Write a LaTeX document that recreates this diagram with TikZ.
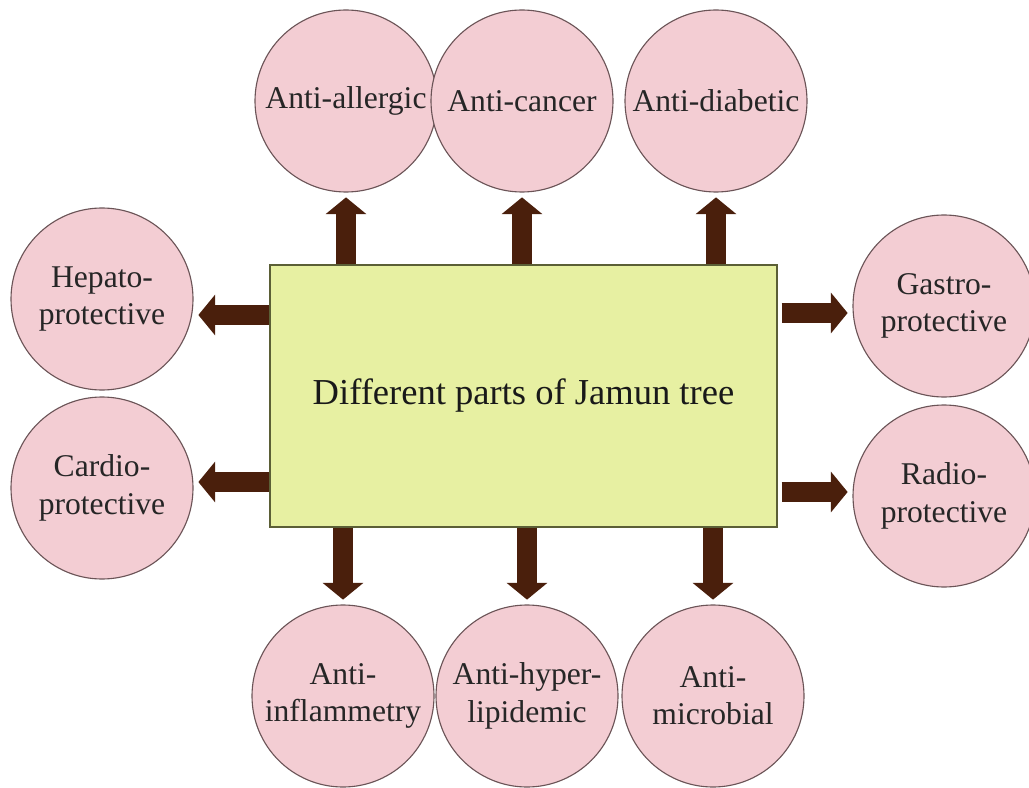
\documentclass[tikz,border=0pt]{standalone}
\usepackage{fontspec}
\setmainfont{Liberation Serif}
\usepackage{xcolor}
\usepackage{tikz}
\usetikzlibrary{arrows.meta,positioning,shapes,calc}

\definecolor{petal}{HTML}{F3CDD3}
\definecolor{petalline}{HTML}{6B5457}
\definecolor{leaf}{HTML}{E7F0A2}
\definecolor{leafline}{HTML}{5B5F36}
\definecolor{bark}{HTML}{4A1F0C}

\begin{document}
\begin{tikzpicture}[
  effect/.style={circle, draw=petalline, line width=0.8pt, fill=petal, minimum size=4.55cm, inner sep=0pt, align=center, text=black!85, font=\fontsize{22.5}{26.5}\selectfont},
  source/.style={draw=leafline, line width=1pt, fill=leaf, minimum width=12.675cm, minimum height=6.55cm, inner sep=0pt, text=black!90, font=\fontsize{26}{30}\selectfont},
  arrow/.style={-{Triangle[width=1cm, length=0.42cm]}, line width=0.5cm, draw=bark, shorten >=0.12cm}
]
\useasboundingbox (0,0) rectangle (25.725,19.675);

% Centre: plant source
\node[source] (body) at (13.0875, 9.775) {Different parts of Jamun tree};

% Top row
\node[effect] (allergic) at (8.65, 17.15) {Anti-allergic};
\node[effect] (cancer) at (13.05, 17.15) {Anti-cancer};
\node[effect] (diabetic) at (17.9, 17.15) {Anti-diabetic};

% Left column
\node[effect] (hepato) at (2.55, 12.2) {Hepato-\\protective};
\node[effect] (cardio) at (2.55, 7.475) {Cardio-\\protective};

% Right column
\node[effect] (gastro) at (23.6, 12.025) {Gastro-\\protective};
\node[effect] (radio) at (23.6, 7.275) {Radio-\\protective};

% Bottom row
\node[effect] (inflam) at (8.575, 2.275) {Anti-\\inflammetry};
\node[effect] (lipid) at (13.175, 2.275) {Anti-hyper-\\lipidemic};
\node[effect] (microbial) at (17.825, 2.275) {Anti-\\microbial};

% Connections
\draw[arrow] (allergic |- body.north) -- (allergic);
\draw[arrow] (cancer |- body.north) -- (cancer);
\draw[arrow] (diabetic |- body.north) -- (diabetic);

\draw[arrow] (inflam |- body.south) -- (inflam);
\draw[arrow] (lipid |- body.south) -- (lipid);
\draw[arrow] (microbial |- body.south) -- (microbial);

\draw[arrow] ($(body.west |- hepato)+(0,-0.4)$) -- ($(hepato.east)+(0,-0.4)$);
\draw[arrow] ($(body.west |- cardio)+(0,0.15)$) -- ($(cardio.east)+(0,0.15)$);
\draw[arrow] ($(body.east |- gastro)+(0.1,-0.175)$) -- ($(gastro.west)+(0,-0.175)$);
\draw[arrow] ($(body.east |- radio)+(0.1,0.1)$) -- ($(radio.west)+(0,0.1)$);

\end{tikzpicture}
\end{document}
